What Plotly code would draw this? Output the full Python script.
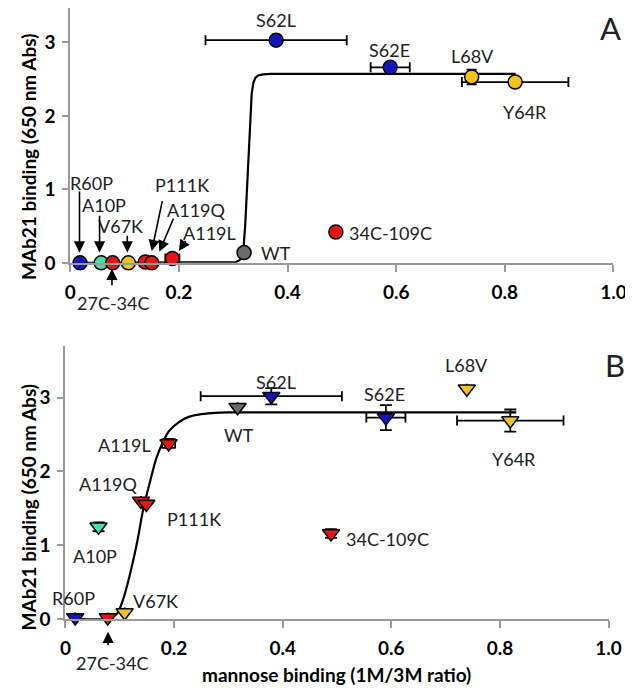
import plotly.graph_objects as go

# ---------------- data ----------------
# Panel A (circles)
a_names = ["R60P", "A10P", "27C-34C", "V67K", "A119Q", "P111K", "A119L", "WT",
           "S62L", "34C-109C", "S62E", "L68V", "Y64R"]
a_x = [0.018, 0.057, 0.078, 0.107, 0.138, 0.150, 0.188, 0.320, 0.379, 0.489, 0.589, 0.739, 0.819]
a_y = [0.0, 0.0, 0.0, 0.0, 0.01, 0.0, 0.06, 0.14, 3.03, 0.42, 2.66, 2.53, 2.46]
a_xerr = [None, None, None, None, None, None, 0.013, None, 0.13, None, 0.036, None, 0.098]
a_yerr = [None, None, None, None, None, None, None, None, None, None, 0.04, 0.10, 0.05]

# Panel B (down triangles)
b_names = a_names
b_x = [0.018, 0.061, 0.078, 0.109, 0.139, 0.149, 0.190, 0.317, 0.379, 0.489, 0.590, 0.739, 0.819]
b_y = [0.02, 1.25, 0.02, 0.09, 1.60, 1.56, 2.38, 2.87, 3.02, 1.16, 2.73, 3.12, 2.69]
b_xerr = [None, None, None, None, None, None, 0.012, None, 0.13, None, 0.036, None, 0.098]
b_yerr = [None, 0.06, None, None, None, None, 0.06, None, 0.11, 0.06, 0.17, None, 0.15]

colors = ["#1414b8", "#45e0a8", "#e81414", "#f5c416", "#e81414", "#e81414", "#e81414",
          "#6b6b6b", "#1414b8", "#e81414", "#1414b8", "#f5c416", "#f5c416"]

# fitted curves
curveA_x = [0.02, 0.29, 0.305, 0.312, 0.318, 0.322, 0.326, 0.330, 0.334, 0.337, 0.341,
            0.346, 0.355, 0.37, 0.82]
curveA_y = [0.0, 0.0, 0.01, 0.04, 0.12, 0.5, 1.1, 1.7, 2.3, 2.45, 2.52, 2.55, 2.565, 2.57, 2.57]
curveB_x = [0.02, 0.07, 0.085, 0.096, 0.105, 0.117, 0.132, 0.143, 0.155, 0.167, 0.179,
            0.191, 0.209, 0.227, 0.245, 0.27, 0.30, 0.83]
curveB_y = [0.0, 0.0, 0.02, 0.08, 0.24, 0.55, 1.04, 1.48, 1.84, 2.17, 2.39, 2.55, 2.67,
            2.74, 2.77, 2.79, 2.80, 2.80]

x_ticks = [0, 0.2, 0.4, 0.6, 0.8, 1.0]
x_ticktext = ["0", "0.2", "0.4", "0.6", "0.8", "1.0"]
y_ticks = [0, 1, 2, 3]
y_ticktext = ["0", "1", "2", "3"]

# ---------------- figure ----------------
W, H = 633, 688
FONT = "Lato"
fig = go.Figure()

def err(arr, width):
    return dict(type="data", array=[v if v is not None else float("nan") for v in arr],
                visible=True, color="black", thickness=1.8, width=width)

fig.add_trace(go.Scatter(x=curveA_x, y=curveA_y, mode="lines", xaxis="x", yaxis="y",
                         line=dict(color="black", width=2.2), showlegend=False,
                         cliponaxis=False))
fig.add_trace(go.Scatter(x=a_x, y=a_y, mode="markers", xaxis="x", yaxis="y",
                         marker=dict(symbol="circle", size=14, color=colors,
                                     line=dict(color="black", width=1.5)),
                         error_x=err(a_xerr, 5), error_y=err(a_yerr, 5),
                         showlegend=False, cliponaxis=False))

fig.add_trace(go.Scatter(x=curveB_x, y=curveB_y, mode="lines", xaxis="x2", yaxis="y2",
                         line=dict(color="black", width=2.2, shape="spline", smoothing=0.6),
                         showlegend=False, cliponaxis=False))
fig.add_trace(go.Scatter(x=b_x, y=b_y, mode="markers", xaxis="x2", yaxis="y2",
                         marker=dict(symbol="triangle-down", size=15, color=colors,
                                     line=dict(color="black", width=1.5)),
                         error_x=err(b_xerr, 5), error_y=err(b_yerr, 6),
                         showlegend=False, cliponaxis=False))

tickfont = dict(family=FONT, size=19, color="black", weight="bold")
axis_common = dict(showgrid=False, zeroline=False, showline=True, linecolor="#9a9a9a",
                   linewidth=2, ticks="outside", tickcolor="#9a9a9a", tickwidth=2,
                   tickfont=tickfont)

fig.update_layout(
    width=W, height=H, margin=dict(l=0, r=0, t=0, b=0),
    plot_bgcolor="white", paper_bgcolor="white",
    xaxis=dict(domain=[58 / W, 618 / W], range=[0, 1.0], anchor="y",
               tickvals=x_ticks, ticktext=x_ticktext, ticklen=7, ticklabelstandoff=4,
               **axis_common),
    yaxis=dict(domain=[1 - 259 / H, 1.0], range=[0, 259 / 74.7], anchor="x",
               tickvals=y_ticks, ticktext=y_ticktext, ticklen=6, ticklabelstandoff=3,
               **axis_common),
    xaxis2=dict(domain=[53 / W, 613 / W], range=[0, 1.0], anchor="y2",
                tickvals=x_ticks, ticktext=x_ticktext, ticklen=7, ticklabelstandoff=4,
                **axis_common),
    yaxis2=dict(domain=[1 - 621 / H, 1 - 343 / H], range=[0, 278 / 75], anchor="x2",
                tickvals=y_ticks, ticktext=y_ticktext, ticklen=6, ticklabelstandoff=3,
                **axis_common),
)

lab = dict(family=FONT, size=18, color="#222")
ann = []

def text(xr, yr, x, y, t, xanchor="center"):
    ann.append(dict(xref=xr, yref=yr, x=x, y=y, text=t, showarrow=False,
                    font=lab, xanchor=xanchor, yanchor="middle"))

def arrow(xr, yr, hx, hy, tx, ty):
    ann.append(dict(xref=xr, yref=yr, axref=xr, ayref=yr, x=hx, y=hy, ax=tx, ay=ty,
                    text="", showarrow=True, arrowhead=2, arrowsize=1.4,
                    arrowwidth=1.6, arrowcolor="black"))

def ptext(px, py, t):
    ann.append(dict(xref="paper", yref="paper", x=px / W, y=1 - py / H, text=t,
                    showarrow=False, font=lab, xanchor="center", yanchor="middle"))

def parrow(px, py, dy):
    ann.append(dict(xref="paper", yref="paper", x=px / W, y=1 - py / H, ax=0, ay=dy,
                    text="", showarrow=True, arrowhead=2, arrowsize=1.4,
                    arrowwidth=1.6, arrowcolor="black"))

# Panel A labels
text("x", "y", 0.379, 3.31, "S62L")
text("x", "y", 0.348, 0.13, "WT", "left")
text("x", "y", 0.5875, 2.89, "S62E")
text("x", "y", 0.741, 2.81, "L68V")
text("x", "y", 0.8375, 2.05, "Y64R")
text("x", "y", 0.509, 0.40, "34C-109C", "left")
text("x", "y", 0.040, 1.09, "R60P")
text("x", "y", 0.063, 0.79, "A10P")
text("x", "y", 0.093, 0.50, "V67K")
text("x", "y", 0.206, 1.06, "P111K")
text("x", "y", 0.232, 0.72, "A119Q")
text("x", "y", 0.257, 0.40, "A119L")
arrow("x", "y", 0.017, 0.14, 0.017, 0.99)
arrow("x", "y", 0.054, 0.14, 0.054, 0.66)
arrow("x", "y", 0.105, 0.14, 0.105, 0.39)
arrow("x", "y", 0.150, 0.16, 0.170, 0.86)
arrow("x", "y", 0.164, 0.15, 0.191, 0.62)
arrow("x", "y", 0.200, 0.16, 0.214, 0.32)
ptext(103, 300, "27C-34C")
parrow(101, 265, 18)

# Panel B labels
text("x2", "y2", 0.3875, 3.21, "S62L")
text("x2", "y2", 0.320, 2.49, "WT")
text("x2", "y2", 0.109, 2.36, "A119L")
text("x2", "y2", 0.080, 1.83, "A119Q")
text("x2", "y2", 0.2375, 1.36, "P111K")
text("x2", "y2", 0.055, 0.85, "A10P")
text("x2", "y2", 0.014, 0.29, "R60P")
text("x2", "y2", 0.166, 0.25, "V67K")
text("x2", "y2", 0.5875, 3.05, "S62E")
text("x2", "y2", 0.739, 3.44, "L68V")
text("x2", "y2", 0.825, 2.17, "Y64R")
text("x2", "y2", 0.5125, 1.08, "34C-109C", "left")
ptext(102, 666, "27C-34C")
parrow(97, 634, 15)

# panel letters
for t, px, py in [("A", 615, 20), ("B", 620, 363)]:
    ann.append(dict(xref="paper", yref="paper", x=px / W, y=1 - py / H, text=t,
                    showarrow=False, font=dict(family=FONT, size=31, color="#222"),
                    xanchor="center", yanchor="middle"))

# axis titles
titlefont = dict(family=FONT, size=19, color="black", weight="bold")
for py in [152, 508]:
    ann.append(dict(xref="paper", yref="paper", x=15 / W, y=1 - py / H,
                    text="MAb21 binding (650 nm Abs)", textangle=-90, showarrow=False,
                    font=titlefont, xanchor="center", yanchor="middle"))
ann.append(dict(xref="paper", yref="paper", x=332 / W, y=1 - 677 / H,
                text="mannose binding (1M/3M ratio)", showarrow=False,
                font=titlefont, xanchor="center", yanchor="middle"))

fig.update_layout(annotations=ann)
fig.write_html("out.html")
